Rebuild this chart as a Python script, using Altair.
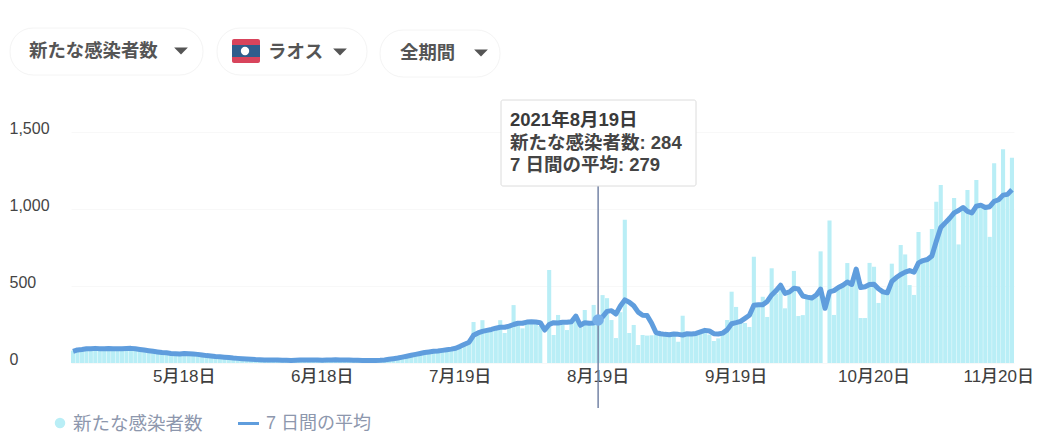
import altair as alt
import pandas as pd

days = [f"{d.month}月{d.day}日" for d in pd.date_range("2021-04-23", "2021-11-20")]
tick_days = ["5月18日", "6月18日", "7月19日", "8月19日", "9月19日", "10月20日"]
last_tick = "11月20日"
y_ticks = [0, 500, 1000, 1500]
cases = [
    80, 88, 92, 95, 90, 96, 92, 90, 98, 92, 90, 95, 96, 98, 88,
    82, 86, 78, 74, 72, 70, 64, 60, 62, 56, 64,
    58, 60, 54, 50, 50, 44, 44, 38, 40, 34, 30, 32, 26, 26, 22,
    24, 20, 22, 18, 20, 18, 16, 20, 16, 18, 20, 18, 22, 20, 18, 16, 22, 18, 22,
    20, 18, 20, 16, 20, 16, 18, 14, 18, 16, 20,
    26, 26, 34, 36, 46, 48, 58, 60, 70, 70, 78, 76, 84, 84, 94, 92, 112,
    125, 140, 266, 190, 278, 205, 210, 225, 278, 195, 235, 376, 250, 225, 265, 270, 260, 240, 0,
    604, 182, 312, 250, 214, 260, 300, 231, 344, 250, 377, 284, 441, 421, 279, 162, 330, 930,
    195, 247, 117, 182, 178, 180, 185, 175, 190, 180, 175, 138, 307, 180, 175, 185, 190, 195,
    185, 143, 160, 190, 279, 463, 364, 270, 260, 234, 690, 380, 430, 299, 615, 450, 500, 355,
    470, 598, 305, 311, 430, 440, 425, 725, 0, 925, 312, 480, 500, 649, 520, 600, 292, 292,
    650, 625, 390, 470, 450, 645, 550, 766, 705, 506, 442, 850, 660, 680, 870, 1047, 1156,
    900, 950, 1072, 770, 1010, 1123, 980, 1188, 1020, 1000, 819, 1297, 1060, 1388, 1100, 1333,
]
average = [
    75, 85, 88, 92, 93, 95, 93, 92, 94, 93, 92, 93, 94, 95, 92,
    88, 84, 80, 76, 72, 68, 66, 62, 60, 58, 62,
    60, 58, 56, 52, 48, 45, 42, 40, 38, 35, 32, 30, 28, 26, 24,
    22, 21, 20, 20, 19, 19, 18, 18, 17, 18, 19, 20, 20, 20, 19, 18, 20, 20, 21,
    20, 19, 19, 18, 18, 17, 17, 16, 17, 18, 20,
    24, 28, 32, 38, 44, 50, 56, 62, 68, 72, 76, 78, 82, 86, 90, 96, 108,
    122, 135, 180, 195, 205, 212, 218, 226, 232, 232, 240, 250, 258, 258, 266, 268, 266, 262, 214,
    250, 262, 260, 265, 264, 268, 305, 245, 262, 258, 260, 279, 300, 335, 340, 318, 370, 410,
    395, 372, 330, 310, 308, 260, 198, 190, 186, 184, 188, 186, 182, 190, 188, 192, 202, 212,
    208, 190, 188, 194, 215, 255, 262, 270, 290, 310, 375, 378, 378, 400, 442, 470, 505, 452,
    462, 485, 480, 435, 428, 422, 440, 480, 355, 462, 470, 490, 505, 526, 510, 610, 490, 495,
    510, 512, 482, 462, 456, 530, 555, 575, 590, 600, 590, 650, 665, 672, 695, 790, 880,
    910, 940, 975, 990, 1010, 985, 975, 1018, 1025, 1010, 1015, 1050, 1060, 1090, 1095, 1125,
]
selected_day = "8月19日"
selected_avg = 279
selector_labels = ["新たな感染者数", "ラオス", "全期間"]
tooltip_lines = ["2021年8月19日", "新たな感染者数: 284", "7 日間の平均: 279"]
legend_labels = ["新たな感染者数", "7 日間の平均"]

FONT = "Liberation Sans, Noto Sans CJK JP, sans-serif"
BAR = "#b9eef6"
LINE = "#5f9ddd"
PAD_L, PAD_T = 63, 124
W, H = 943, 231
one = alt.Data(values=[{"a": 1}])


def px(v):
    return alt.value(v - 8 - PAD_L)


def py(v):
    return alt.value(v - 8 - PAD_T)


def box(x0, x1, y0, y1, fill, stroke=None, radius=0):
    kw = {"fill": fill, "cornerRadius": radius}
    if stroke:
        kw.update(stroke=stroke, strokeWidth=1)
    return alt.Chart(one).mark_rect(**kw).encode(x=px(x0), x2=px(x1), y=py(y0), y2=py(y1))


def label(x, y, text, size, color="#4a4a4a", weight="normal", align="left"):
    return alt.Chart(one).mark_text(
        text=text, font=FONT, fontSize=size, color=color, fontWeight=weight,
        align=align, baseline="middle",
    ).encode(x=px(x), y=py(y))


def caret(x, y):
    return alt.Chart(one).mark_point(
        shape="M-1,-0.5L1,-0.5L0,0.5Z", filled=True, color="#555555", opacity=1, size=190
    ).encode(x=px(x), y=py(y))


df = pd.DataFrame({"day": days, "cases": cases, "average": average})
x_scale = alt.Scale(type="band", domain=days, paddingInner=0.08, paddingOuter=0)
y_scale = alt.Scale(domain=[0, 1500], nice=False)
x_axis = alt.Axis(
    values=tick_days, labelAngle=0, labelFont=FONT, labelFontSize=17, labelFontWeight=500,
    labelColor="#3f3f3f", labelPadding=5, ticks=False, domain=False, grid=False,
    labelOverlap=False, labelFlush=False,
)
y_axis = alt.Axis(
    values=y_ticks, format=",d", labelFont=FONT, labelFontSize=16, labelColor="#444444",
    labelAlign="left", labelPadding=62, labelOffset=-4, ticks=False, domain=False,
    grid=True, gridColor="#f8f8f8",
)
x_enc = alt.X("day:N", scale=x_scale, title=None, axis=x_axis)

bars = alt.Chart(df).mark_bar(color=BAR).encode(
    x=x_enc,
    y=alt.Y("cases:Q", scale=y_scale, title=None, axis=y_axis),
)
line = alt.Chart(df).mark_line(color=LINE, strokeWidth=5, strokeJoin="round").encode(
    x=x_enc, y=alt.Y("average:Q", scale=y_scale, title=None, axis=y_axis)
)
sel = pd.DataFrame({"day": [selected_day], "average": [selected_avg]})
rule = alt.Chart(sel).mark_rule(color="#7584a6", strokeWidth=1.5).encode(
    x=x_enc, y=py(186), y2=py(408)
)
dot = alt.Chart(sel).mark_point(filled=True, color="#76afe8", opacity=1, size=130).encode(
    x=x_enc, y=alt.Y("average:Q", scale=y_scale, title=None, axis=y_axis)
)

layers = [
    bars, rule, line, dot,
    box(10, 203, 28, 75, "#ffffff", "#f4f4f4", 23),
    box(217, 367, 28, 75, "#ffffff", "#f4f4f4", 23),
    box(380, 500, 30, 77, "#ffffff", "#f4f4f4", 23),
    label(29, 51, selector_labels[0], 18.4, "#555555", "bold"),
    caret(181, 51),
    box(232, 260, 39, 63, "#d8445c", radius=2),
    box(232, 260, 45, 57, "#2f5d8c"),
    alt.Chart(one).mark_point(filled=True, color="#ffffff", opacity=1, size=70).encode(x=px(245), y=py(51)),
    label(268, 52, selector_labels[1], 18.4, "#555555", "bold"),
    caret(340, 52),
    label(400, 53, selector_labels[2], 18.4, "#555555", "bold"),
    caret(481, 53),
    box(501, 696, 100, 186, "#ffffff", "#dcdcdc", 2),
    label(510, 120, tooltip_lines[0], 18.5, "#3a3a3a", "bold"),
    label(510, 143, tooltip_lines[1], 18.5, "#444444", "bold"),
    label(510, 165, tooltip_lines[2], 18.5, "#444444", "bold"),
    label(1034, 377, last_tick, 17, "#3f3f3f", 500, "right"),
    alt.Chart(one).mark_point(filled=True, color=BAR, opacity=1, size=110).encode(x=px(60), y=py(423)),
    label(73, 424, legend_labels[0], 18.5, "#8d97ad"),
    box(238, 259, 422, 425, LINE),
    label(266, 424, legend_labels[1], 18, "#8d97ad"),
]

chart = alt.layer(*layers).properties(
    width=W, height=H,
    autosize=alt.AutoSizeParams(type="none"),
    padding={"left": PAD_L, "top": PAD_T, "right": 21, "bottom": 76},
    background="#ffffff",
).configure_view(stroke=None)

chart.save("out.html", embed_options={"renderer": "svg", "actions": False})
